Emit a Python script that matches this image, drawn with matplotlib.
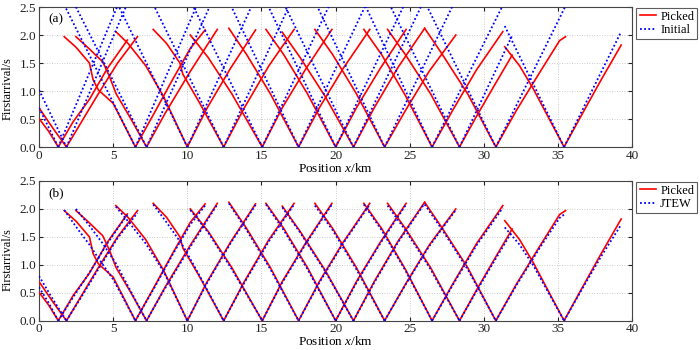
import matplotlib
matplotlib.use("Agg")
import matplotlib.pyplot as plt
from matplotlib.lines import Line2D

plt.rcParams['font.family'] = ['Liberation Serif', 'DejaVu Serif']
plt.rcParams['mathtext.fontset'] = 'custom'
plt.rcParams['mathtext.rm'] = 'Liberation Serif'
plt.rcParams['mathtext.it'] = 'Liberation Serif:italic'

# shot positions (km)
shots = [1.3, 1.85, 6.5, 7.25, 10.0, 12.45, 15.05, 17.5, 20.0, 21.2, 23.3, 26.5, 28.35, 30.8, 35.4]

# picked first arrivals, left branches (x knots, times)
picked_left_x = [
    [0, 0.65, 1.3], [0, 0.9, 1.85],
    [1.7, 2.5, 3.4, 3.65, 4.0, 5.0, 6.5],
    [2.49, 3.4, 4.3, 4.75, 5.2, 6.2, 7.25],
    [5.18, 6.0, 7.2, 8.4, 10.0],
    [7.7, 8.6, 9.5, 9.7, 10.8, 12.45],
    [10.2, 11.4, 13.0, 15.05], [12.8, 14.0, 15.6, 17.5],
    [15.3, 16.5, 18.1, 20.0], [16.4, 17.6, 19.3, 21.2],
    [18.6, 19.8, 21.4, 23.3], [21.9, 23.1, 24.7, 26.5],
    [23.5, 24.7, 26.4, 28.35], [26.0, 27.2, 28.9, 30.8],
    [31.4, 32.4, 33.3, 35.4]]
picked_left_t = [
    [0.51, 0.28, 0], [0.70, 0.35, 0],
    [1.97, 1.78, 1.50, 1.20, 1.02, 0.78, 0],
    [1.97, 1.75, 1.52, 1.26, 0.95, 0.50, 0],
    [2.06, 1.85, 1.45, 0.90, 0],
    [2.10, 1.85, 1.50, 1.30, 0.80, 0],
    [2.00, 1.60, 0.95, 0], [2.12, 1.65, 0.95, 0],
    [2.10, 1.65, 0.95, 0], [2.05, 1.60, 0.90, 0],
    [2.10, 1.65, 0.95, 0], [2.10, 1.65, 0.92, 0],
    [2.10, 1.65, 0.95, 0], [2.12, 1.65, 0.95, 0],
    [1.79, 1.45, 1.05, 0]]
# picked first arrivals, right branches
picked_right_x = [
    [1.3, 2.3, 3.4, 4.6, 5.96], [1.85, 2.8, 4.0, 5.3, 6.64],
    [6.5, 7.8, 9.0, 10.2, 11.2], [7.25, 8.5, 10.2, 12.02],
    [10.0, 11.3, 12.9, 14.6], [12.45, 13.8, 15.5, 17.2],
    [15.05, 16.4, 18.0, 19.75], [17.5, 18.9, 20.5, 22.3],
    [20.0, 21.4, 23.0, 24.75], [21.2, 22.6, 24.2, 26.0],
    [23.3, 24.7, 26.3, 28.1], [26.5, 27.9, 29.5, 31.27],
    [28.35, 29.5, 30.7, 31.9], [30.8, 32.2, 33.8, 35.1, 35.5],
    [35.4, 36.6, 37.9, 39.25]]
picked_right_t = [
    [0, 0.45, 0.85, 1.40, 1.91], [0, 0.42, 0.95, 1.50, 1.97],
    [0, 0.62, 1.20, 1.76, 2.09], [0, 0.60, 1.35, 2.10],
    [0, 0.68, 1.40, 2.09], [0, 0.68, 1.45, 2.10],
    [0, 0.70, 1.40, 2.10], [0, 0.70, 1.40, 2.10],
    [0, 0.70, 1.40, 2.10], [0, 0.70, 1.42, 2.12],
    [0, 0.65, 1.35, 2.00], [0, 0.66, 1.38, 2.06],
    [0, 0.55, 1.10, 1.64], [0, 0.66, 1.35, 1.90, 1.97],
    [0, 0.58, 1.20, 1.82]]

# JTEW computed times at the same x knots
jtew_left_t = [
    [0.60, 0.32, 0], [0.80, 0.40, 0],
    [1.98, 1.68, 1.36, 1.26, 1.12, 0.74, 0],
    [2.00, 1.70, 1.38, 1.20, 1.02, 0.52, 0],
    [2.04, 1.78, 1.38, 0.88, 0],
    [2.08, 1.76, 1.42, 1.34, 0.82, 0],
    [1.98, 1.58, 0.92, 0], [2.10, 1.62, 0.92, 0],
    [2.08, 1.62, 0.92, 0], [2.03, 1.58, 0.88, 0],
    [2.06, 1.62, 0.92, 0], [2.08, 1.62, 0.90, 0],
    [2.06, 1.62, 0.92, 0], [2.08, 1.62, 0.92, 0],
    [1.67, 1.36, 1.00, 0]]
jtew_right_t = [
    [0, 0.42, 0.86, 1.38, 1.90], [0, 0.40, 0.92, 1.48, 1.93],
    [0, 0.60, 1.18, 1.72, 2.06], [0, 0.58, 1.32, 2.08],
    [0, 0.66, 1.38, 2.07], [0, 0.66, 1.42, 2.08],
    [0, 0.68, 1.38, 2.08], [0, 0.68, 1.38, 2.08],
    [0, 0.68, 1.38, 2.08], [0, 0.68, 1.40, 2.10],
    [0, 0.64, 1.33, 1.98], [0, 0.64, 1.35, 2.02],
    [0, 0.53, 1.07, 1.60], [0, 0.64, 1.32, 1.84, 1.92],
    [0, 0.56, 1.15, 1.72]]

# initial-model times at the far end of each branch (straight lines from the shot)
initial_left_end_t = [0.70, 1.02, 2.54, 2.50, 2.62, 2.55, 2.62, 2.60, 2.60,
                      2.62, 2.60, 2.58, 2.62, 2.60, 2.16]
initial_right_end_t = [2.94, 2.99, 2.87, 2.81, 2.67, 2.71, 2.63, 2.69, 2.61,
                       2.64, 2.64, 2.53, 1.99, 2.52, 2.06]

x_ticks = [0, 5, 10, 15, 20, 25, 30, 35, 40]
y_ticks = [0.0, 0.5, 1.0, 1.5, 2.0, 2.5]

fig = plt.figure(figsize=(7, 3.5), dpi=100)
axA = fig.add_axes([0.0557, 0.58, 0.8476, 0.40])
axB = fig.add_axes([0.0557, 0.0837, 0.8476, 0.3992])

RED = '#ff0000'
BLUE = '#0000ff'
DOT = (0, (1, 1.3))

for ax, tag, lab2, ylab_y in [(axA, '(a)', 'Initial', 0.42), (axB, '(b)', 'JTEW', 0.435)]:
    for i, s in enumerate(shots):
        ax.plot(picked_left_x[i], picked_left_t[i], color=RED, lw=1.2, zorder=3)
        ax.plot(picked_right_x[i], picked_right_t[i], color=RED, lw=1.2, zorder=3)
    for i, s in enumerate(shots):
        if tag == '(a)':
            ax.plot([picked_left_x[i][0], s], [initial_left_end_t[i], 0],
                    color=BLUE, lw=1.3, ls=DOT, zorder=4)
            ax.plot([s, picked_right_x[i][-1]], [0, initial_right_end_t[i]],
                    color=BLUE, lw=1.3, ls=DOT, zorder=4)
        else:
            ax.plot(picked_left_x[i], jtew_left_t[i], color=BLUE, lw=1.3, ls=DOT, zorder=4)
            ax.plot(picked_right_x[i], jtew_right_t[i], color=BLUE, lw=1.3, ls=DOT, zorder=4)
    ax.set_xlim(0, 40)
    ax.set_ylim(0, 2.5)
    ax.set_xticks(x_ticks)
    ax.set_yticks(y_ticks)
    ax.set_yticklabels([f'{v:.1f}' for v in y_ticks])
    ax.tick_params(direction='in', top=True, right=True, labelsize=9.5, length=3,
                   pad=2, colors='#222222')
    for sp in ax.spines.values():
        sp.set_color('#444444')
        sp.set_linewidth(0.8)
    ax.grid(True, ls=(0, (1, 2)), color='#bbbbbb', lw=0.6)
    ax.set_axisbelow(True)
    ax.set_ylabel('Firstarrival/s', fontsize=8.8)
    ax.yaxis.set_label_coords(-0.042, ylab_y)
    ax.set_xlabel('Position $x$/km', fontsize=9.5, labelpad=0)
    ax.text(0.016, 0.91, tag, transform=ax.transAxes, fontsize=9.5, va='center', ha='left')
    handles = [Line2D([], [], color=RED, lw=1.2),
               Line2D([], [], color=BLUE, lw=1.3, ls=DOT)]
    leg = ax.legend(handles, ['Picked', lab2], loc='upper left', bbox_to_anchor=(1.007, 0.995),
                    borderaxespad=0, fontsize=9, frameon=True, fancybox=False,
                    handlelength=1.35, handletextpad=0.3, borderpad=0.25, labelspacing=0.12)
    leg.get_frame().set_edgecolor('#333333')
    leg.get_frame().set_linewidth(0.8)

fig.savefig('out.png', dpi=100)
